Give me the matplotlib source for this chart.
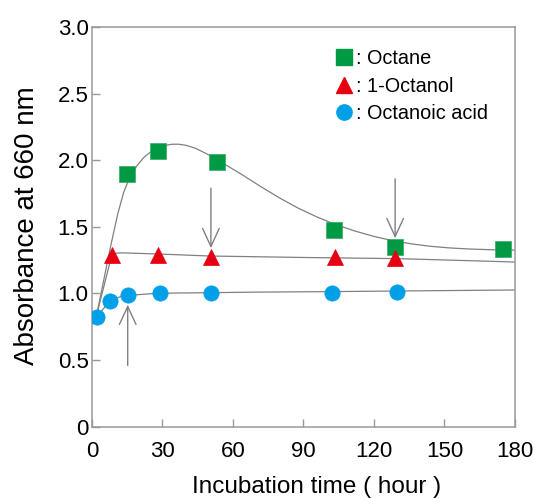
import matplotlib
matplotlib.use('Agg')
import matplotlib.pyplot as plt
from matplotlib.lines import Line2D

plt.rcParams['font.family'] = ['Liberation Sans', 'DejaVu Sans']

# measured points (hours, absorbance at 660 nm)
octane_t = [15, 28, 53, 103, 129, 175]
octane_a = [1.90, 2.07, 1.99, 1.475, 1.345, 1.33]
octanol_t = [8.6, 28, 50.6, 103.4, 129]
octanol_a = [1.29, 1.29, 1.275, 1.27, 1.265]
acid_t = [2, 7.7, 15.2, 29, 50.6, 102.3, 129.6]
acid_a = [0.825, 0.945, 0.985, 1.005, 1.005, 1.005, 1.01]

# fitted guide curves
octane_fit_t = [2, 5, 8, 11, 13.5, 16, 19, 22, 25, 28, 31, 34, 37, 40, 44, 48, 52,
                56, 64, 72, 80, 88, 96, 104, 112, 120, 128, 136, 144, 152, 160,
                170, 180]
octane_fit_a = [0.84, 1.10, 1.36, 1.60, 1.76, 1.87, 1.955, 2.02, 2.063, 2.093, 2.11,
                2.12, 2.12, 2.112, 2.09, 2.055, 2.018, 1.975, 1.89, 1.80, 1.715,
                1.638, 1.572, 1.515, 1.468, 1.428, 1.396, 1.372, 1.354, 1.342,
                1.334, 1.328, 1.325]
octanol_fit_t = [2, 8.6, 12.5, 30, 50, 90, 131, 180]
octanol_fit_a = [0.84, 1.30, 1.305, 1.295, 1.281, 1.27, 1.261, 1.236]
acid_fit_t = [2, 7.7, 12, 18.1, 26.6, 35, 46, 70, 102.6, 140, 180]
acid_fit_a = [0.825, 0.945, 0.975, 0.989, 1.0, 1.003, 1.005, 1.01, 1.014, 1.02, 1.026]

# arrows: x position, tail and tip absorbance
arrow_t = [15.2, 50.6, 129]
arrow_tail = [0.46, 1.79, 1.86]
arrow_tip = [0.915, 1.34, 1.415]

xticks = [0, 30, 60, 90, 120, 150, 180]
yticks = [0, 0.5, 1.0, 1.5, 2.0, 2.5, 3.0]
ytick_labels = ['0', '0.5', '1.0', '1.5', '2.0', '2.5', '3.0']

green = '#009944'
red = '#e60012'
blue = '#00a0e9'
grey = '#808080'

fig = plt.figure(figsize=(5.33, 4.98), dpi=100)
ax = fig.add_axes([0.1726, 0.1432, 0.7936, 0.8026])

ax.plot(octane_fit_t, octane_fit_a, color=grey, lw=0.9, zorder=2)
ax.plot(octanol_fit_t, octanol_fit_a, color=grey, lw=0.9, zorder=2)
ax.plot(acid_fit_t, acid_fit_a, color=grey, lw=0.9, zorder=2)

for t, a0, a1 in zip(arrow_t, arrow_tail, arrow_tip):
    ax.annotate('', xy=(t, a1), xytext=(t, a0),
                arrowprops=dict(arrowstyle='->,head_length=0.65,head_width=0.3',
                                color=grey, lw=1.0, mutation_scale=20,
                                shrinkA=0, shrinkB=0), zorder=2)

ax.plot(octane_t, octane_a, 's', color=green, ms=12, mec='#33aa66', mew=0.5, zorder=3)
ax.plot(octanol_t, octanol_a, '^', color=red, ms=11, mec=red, mew=0.5, zorder=3)
ax.plot(acid_t, acid_a, 'o', color=blue, ms=11, mec=blue, mew=0.5, zorder=3)

ax.set_xlim(0, 180)
ax.set_ylim(0, 3.0)
ax.set_xticks(xticks)
ax.set_yticks(yticks)
ax.set_yticklabels(ytick_labels)
ax.tick_params(axis='both', direction='in', length=6, width=1.0, color='#999999',
               labelsize=16, colors='#999999', labelcolor='black')
ax.tick_params(axis='x', pad=10.5)
ax.tick_params(axis='y', pad=2.5)
for s in ax.spines.values():
    s.set_color('#999999')
    s.set_linewidth(1.1)

ax.set_xlabel('Incubation time ( hour )', fontsize=17.5)
ax.xaxis.set_label_coords(0.532, -0.123)
ax.set_ylabel('Absorbance at 660 nm', fontsize=20)
ax.yaxis.set_label_coords(-0.122, 0.503)

handles = [
    Line2D([], [], ls='none', marker='s', color=green, ms=12),
    Line2D([], [], ls='none', marker='^', color=red, ms=11),
    Line2D([], [], ls='none', marker='o', color=blue, ms=11),
]
ax.legend(handles, [': Octane', ': 1-Octanol', ': Octanoic acid'],
          loc='upper left', bbox_to_anchor=(0.574, 0.944), frameon=False,
          fontsize=14.3, handlelength=0.95, handletextpad=0.12, labelspacing=0.42,
          borderpad=0, borderaxespad=0)

fig.savefig('out.png', dpi=100)
